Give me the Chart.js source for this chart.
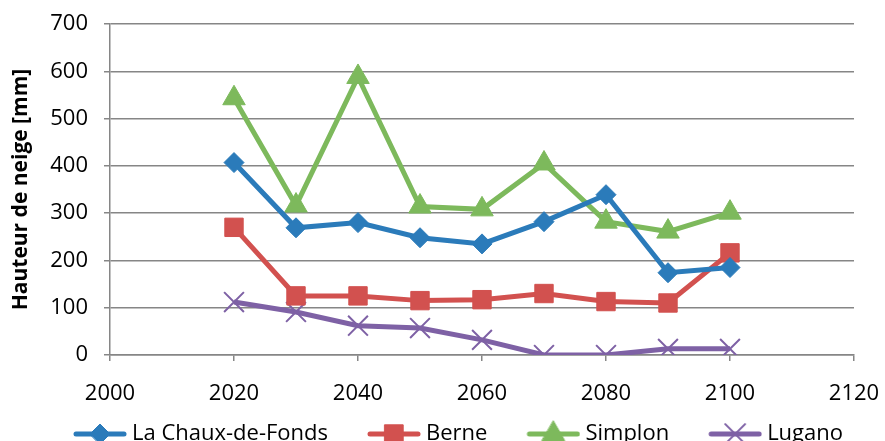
<!DOCTYPE html>
<html lang="fr">
<head>
<meta charset="UTF-8">
<title>Hauteur de neige</title>
<script src="https://cdn.jsdelivr.net/npm/chart.js"></script>
<style>
  html, body { margin: 0; padding: 0; background: #fff; overflow: hidden; }
  #box { width: 885px; height: 455px; position: relative; }
</style>
</head>
<body>
<div id="box"><canvas id="neigeChart"></canvas></div>
<script>
// données
const annees = [2020, 2030, 2040, 2050, 2060, 2070, 2080, 2090, 2100];
const chauxDeFonds = [407, 269, 280, 248, 235, 282, 339, 174, 185];
const berne = [270, 125, 125, 115, 117, 130, 113, 110, 216];
const simplon = [543, 316, 588, 314, 308, 405, 282, 261, 301];
const lugano = [112, 91, 62, 57, 32, 0, 0, 13, 13];
const nomsSeries = ['La Chaux-de-Fonds', 'Berne', 'Simplon', 'Lugano'];
const xTicks = [2000, 2020, 2040, 2060, 2080, 2100, 2120];
const yTicks = [0, 100, 200, 300, 400, 500, 600, 700];

const couleurs = ['#2B7BBA', '#D2514F', '#7DB95C', '#7E61A5'];
const formes = ['rectRot', 'rect', 'triangle', 'crossRot'];
const tailles = [10, 13, 13, 14];
const police = "'Open Sans', 'DejaVu Sans', sans-serif";
const grisAxe = '#868686';

// icône ligne + marqueur pour la légende (avec un blanc à gauche pour l'espacement)
function iconeLegende(i) {
  const c = document.createElement('canvas');
  c.width = 88; c.height = 30;
  const ctx = c.getContext('2d');
  ctx.strokeStyle = couleurs[i];
  ctx.lineWidth = 5;
  ctx.lineCap = 'round';
  ctx.beginPath(); ctx.moveTo(37, 15); ctx.lineTo(85, 15); ctx.stroke();
  ctx.fillStyle = couleurs[i];
  ctx.lineWidth = i === 3 ? 2 : 1;
  Chart.helpers.drawPoint(ctx, {
    pointStyle: formes[i], radius: tailles[i], rotation: 0,
    borderWidth: ctx.lineWidth
  }, 61, 15);
  return c;
}

const valeurs = [chauxDeFonds, berne, simplon, lugano];
const datasets = valeurs.map((v, i) => ({
  label: nomsSeries[i],
  data: annees.map((a, k) => ({ x: a, y: v[k] })),
  borderColor: couleurs[i],
  backgroundColor: couleurs[i],
  borderWidth: 5,
  pointStyle: formes[i],
  pointRadius: tailles[i],
  pointHoverRadius: tailles[i],
  pointBorderWidth: i === 3 ? 2 : 1,
  tension: 0
}));

// décale la légende pour la centrer comme dans l'original
const decalLegende = {
  id: 'decalLegende',
  afterLayout(chart) {
    chart.legend.left += 13;
    chart.legend.right += 13;
  }
};

new Chart(document.getElementById('neigeChart'), {
  type: 'line',
  data: { datasets: datasets },
  plugins: [decalLegende],
  options: {
    responsive: true,
    maintainAspectRatio: false,
    animation: false,
    layout: { padding: { top: 24, right: 31, left: 8, bottom: 0 } },
    plugins: {
      tooltip: { enabled: false },
      legend: {
        position: 'bottom',
        labels: {
          usePointStyle: true,
          pointStyleWidth: 76,
          padding: 11,
          color: '#000',
          font: { family: police, size: 22 },
          generateLabels: chart => chart.data.datasets.map((d, i) => ({
            text: d.label,
            pointStyle: iconeLegende(i),
            fillStyle: couleurs[i],
            strokeStyle: couleurs[i],
            lineWidth: 0,
            datasetIndex: i,
            hidden: false,
            fontColor: '#000'
          }))
        }
      }
    },
    scales: {
      x: {
        type: 'linear',
        min: 2000,
        max: 2120,
        afterBuildTicks: ax => { ax.ticks = xTicks.map(v => ({ value: v })); },
        afterFit: ax => { ax.height = 57; ax.paddingLeft = 0; ax.paddingRight = 0; },
        ticks: {
          color: '#000', font: { family: police, size: 22 }, padding: 20, maxRotation: 0,
          callback: v => String(v)
        },
        grid: { drawOnChartArea: false, drawTicks: true, tickLength: 6, color: grisAxe, lineWidth: 1.5 },
        border: { display: true, color: grisAxe, width: 1.5 }
      },
      y: {
        min: 0,
        max: 700,
        afterBuildTicks: ax => { ax.ticks = yTicks.map(v => ({ value: v })); },
        afterFit: ax => { ax.width = 102; ax.paddingTop = 0; ax.paddingBottom = 0; },
        ticks: { color: '#000', font: { family: police, size: 22 }, padding: 16, callback: v => String(v) },
        grid: { drawTicks: true, tickLength: 6, color: grisAxe, lineWidth: 1.5 },
        border: { display: true, color: grisAxe, width: 1.5 },
        title: {
          display: true,
          text: 'Hauteur de neige [mm]',
          color: '#000',
          font: { family: police, size: 21, weight: 'bold' },
          padding: 0
        }
      }
    }
  }
});
</script>
</body>
</html>
